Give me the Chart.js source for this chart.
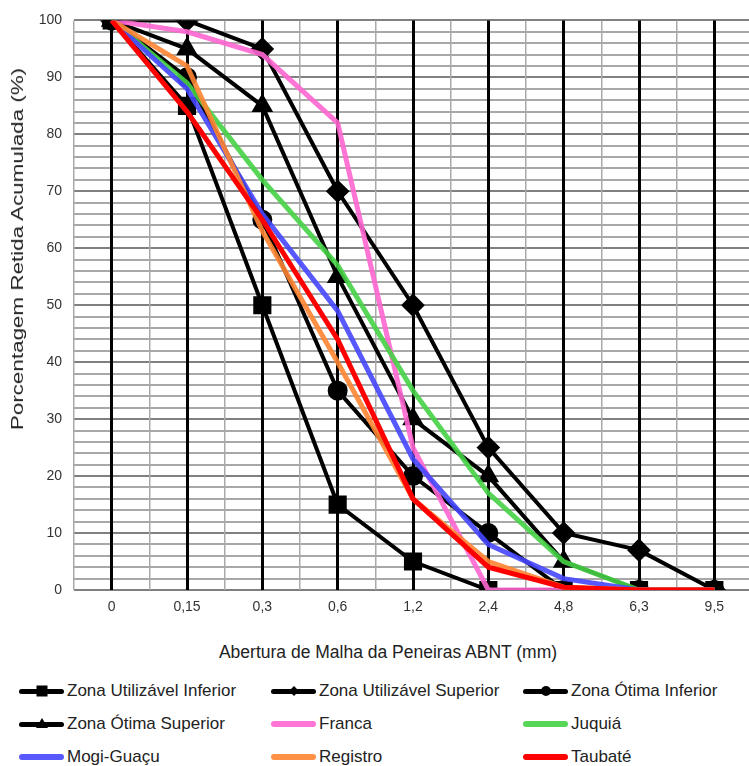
<!DOCTYPE html>
<html>
<head>
<meta charset="utf-8">
<script src="https://cdn.jsdelivr.net/npm/chart.js@4/dist/chart.umd.min.js"></script>
<style>
  html, body { margin: 0; padding: 0; background: #fff; overflow: hidden; }
  #wrap { position: relative; width: 749px; height: 766px; overflow: hidden; font-family: "Liberation Sans", Arial, sans-serif; color: #222; }
  #chartBox { position: absolute; left: 0; top: 0; }
  #ytitle { position: absolute; left: 18px; top: 249px; white-space: nowrap; font-size: 16px;
            transform: translate(-50%, -50%) rotate(-90deg) scaleX(1.4); }
  #xtitle { position: absolute; left: 388px; top: 652px; white-space: nowrap; font-size: 17.5px;
            transform: translate(-50%, -50%); }
  .item { position: absolute; display: flex; align-items: center; height: 20px; transform: translateY(-50%);
          font-family: "Liberation Sans Narrow", "Liberation Sans", sans-serif; font-size: 17px; }
  .sample { position: relative; width: 47px; height: 20px; margin-right: 2px; }
  .sample .ln { position: absolute; left: 1px; right: 1px; top: 8px; height: 5px; border-radius: 3px; }
  .sample .mk { position: absolute; left: 50%; top: 50%; transform: translate(-50%, -50%); background: #000; }
</style>
</head>
<body>
<div id="wrap">
  <div id="chartBox"><canvas id="c" width="766" height="625"></canvas></div>
  <div id="ytitle">Porcentagem Retida Acumulada (%)</div>
  <div id="xtitle">Abertura de Malha da Peneiras ABNT (mm)</div>
  <div id="legend"></div>
</div>
<script>
// categorias (abertura das peneiras)
const peneiras = ['0', '0,15', '0,3', '0,6', '1,2', '2,4', '4,8', '6,3', '9,5'];

// limites NBR 7211
const zonaUtilInf = [100, 85, 50, 15, 5, 0, 0, 0, 0];
const zonaUtilSup = [100, 100, 95, 70, 50, 25, 10, 7, 0];
const zonaOtimaInf = [100, 90, 65, 35, 20, 10, 0, 0, 0];
const zonaOtimaSup = [100, 95, 85, 55, 30, 20, 5, 0, 0];

// areias
const franca = [100, 98, 94, 82, 25, 0, 0, 0, 0];
const juquia = [100, 89, 72, 57, 35, 17, 5, 0, 0];
const mogiGuacu = [100, 88, 66, 49, 23, 8, 2, 0, 0];
const registro = [100, 92, 63, 40, 16, 5, 0.5, 0, 0];
const taubate = [100, 84, 65, 44, 16, 4, 0.5, 0, 0];

const yTicks = [0, 10, 20, 30, 40, 50, 60, 70, 80, 90, 100];

const series = [
    { label: 'Zona Utilizável Inferior', data: zonaUtilInf, color: '#000', marker: 'rect', r: 10 },
    { label: 'Zona Utilizável Superior', data: zonaUtilSup, color: '#000', marker: 'rectRot', r: 9 },
    { label: 'Zona Ótima Inferior', data: zonaOtimaInf, color: '#000', marker: 'circle', r: 8 },
    { label: 'Zona Ótima Superior', data: zonaOtimaSup, color: '#000', marker: 'triangle', r: 8.5 },
    { label: 'Franca', data: franca, color: 'rgba(255,102,210,0.9)', marker: null },
    { label: 'Juquiá', data: juquia, color: 'rgba(70,210,70,0.9)', marker: null },
    { label: 'Mogi-Guaçu', data: mogiGuacu, color: 'rgba(70,70,255,0.9)', marker: null },
    { label: 'Registro', data: registro, color: 'rgba(255,133,51,0.9)', marker: null },
    { label: 'Taubaté', data: taubate, color: '#ff0000', marker: null }
];

const datasets = series.map((s, i) => ({
    label: s.label,
    data: s.data,
    borderColor: s.color,
    backgroundColor: s.color,
    borderWidth: s.marker ? 4 : 5,
    pointStyle: s.marker || 'circle',
    pointRadius: s.marker ? s.r : 0,
    pointHoverRadius: s.marker ? s.r : 0,
    tension: 0,
    fill: false,
    xAxisID: 'x',
    order: series.length - i   // last series drawn on top
}));

new Chart(document.getElementById('c'), {
    type: 'line',
    data: { labels: peneiras, datasets },
    options: {
        responsive: false,
        animation: false,
        layout: { padding: { top: 18, right: 0, left: 0, bottom: 0 } },
        plugins: { legend: { display: false }, tooltip: { enabled: false } },
        scales: {
            // y first so the black verticals are painted over the horizontal grid
            y: {
                min: 0,
                max: 100,
                ticks: {
                    stepSize: 2,
                    maxTicksLimit: 60,
                    autoSkip: false,
                    padding: 12,
                    color: '#333',
                    font: { family: 'Liberation Sans', size: 14 },
                    callback: v => yTicks.includes(v) ? String(v) : ' '
                },
                grid: {
                    drawTicks: false,
                    lineWidth: 2,
                    color: ctx => (ctx.tick && ctx.tick.value % 10 === 0) ? '#808080' : '#a8a8a8'
                },
                border: { display: false },
                afterFit: s => { s.width = 74; }
            },
            x2: {
                type: 'category',
                labels: peneiras,
                offset: true,
                position: 'bottom',
                grid: { offset: true, color: '#aaaaaa', lineWidth: 1.5, drawTicks: false },
                border: { display: false },
                ticks: { display: false },
                afterFit: s => { s.height = 0; }
            },
            x: {
                type: 'category',
                offset: true,
                grid: { offset: false, color: '#000', lineWidth: 3, drawTicks: false },
                border: { display: false },
                ticks: { color: '#333', font: { family: 'Liberation Sans', size: 14 }, padding: 9 },
                afterFit: s => { s.height = 35; }
            }
        }
    }
});

// legenda em 3 colunas
const legend = document.getElementById('legend');
const cols = [18, 270, 522];
const rows = [691, 724, 757];
series.forEach((s, i) => {
    const item = document.createElement('div');
    item.className = 'item';
    item.style.left = cols[i % 3] + 'px';
    item.style.top = rows[Math.floor(i / 3)] + 'px';
    const sample = document.createElement('div');
    sample.className = 'sample';
    const ln = document.createElement('div');
    ln.className = 'ln';
    ln.style.background = s.color;
    if (!s.marker) { ln.style.height = '6px'; ln.style.top = '7px'; }
    sample.appendChild(ln);
    if (s.marker) {
        const mk = document.createElement('div');
        mk.className = 'mk';
        if (s.marker === 'rect') { mk.style.width = '11px'; mk.style.height = '11px'; }
        if (s.marker === 'rectRot') { mk.style.width = '7px'; mk.style.height = '7px'; mk.style.transform = 'translate(-50%,-50%) rotate(45deg)'; }
        if (s.marker === 'circle') { mk.style.width = '10px'; mk.style.height = '10px'; mk.style.borderRadius = '50%'; }
        if (s.marker === 'triangle') {
            mk.style.background = 'none'; mk.style.width = '0'; mk.style.height = '0';
            mk.style.borderLeft = '6px solid transparent'; mk.style.borderRight = '6px solid transparent';
            mk.style.borderBottom = '10px solid #000';
            mk.style.transform = 'translate(-50%,-60%)';
        }
        sample.appendChild(mk);
    }
    item.appendChild(sample);
    const txt = document.createElement('span');
    txt.textContent = s.label;
    item.appendChild(txt);
    legend.appendChild(item);
});
</script>
</body>
</html>
